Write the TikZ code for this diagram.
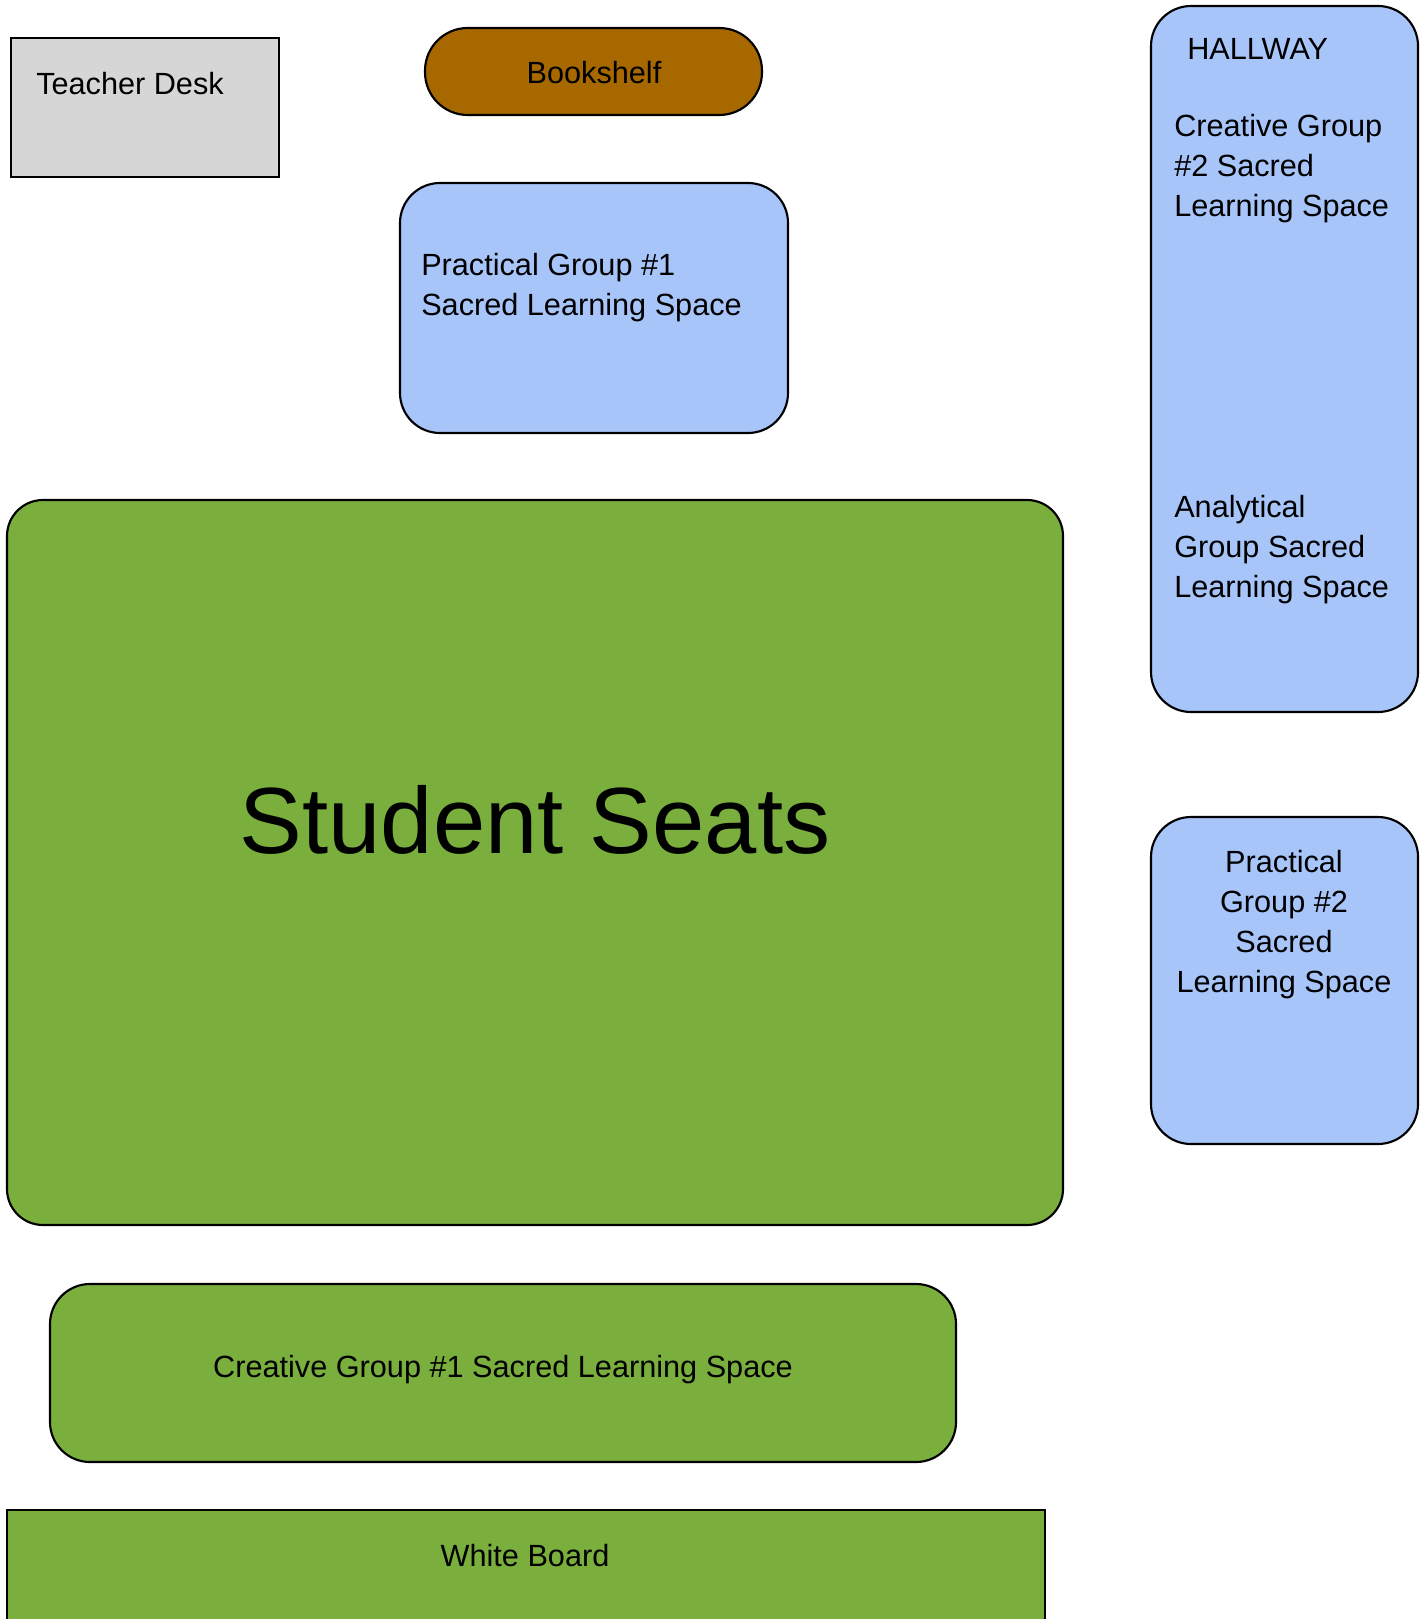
\documentclass[tikz,border=0pt]{standalone}
\usepackage{fontspec}
\setmainfont{Liberation Sans}
\definecolor{roomblue}{HTML}{A8C5FA}
\definecolor{roomgreen}{HTML}{7AAE3D}
\definecolor{shelfbrown}{HTML}{A86800}
\definecolor{deskgray}{HTML}{D6D6D6}
\begin{document}
\begin{tikzpicture}[x=0.75pt,y=-0.75pt,
  box/.style={draw=black,line width=1.6pt},
  lbl/.style={inner sep=0pt,font=\fontsize{23}{30}\selectfont,text=black},
]
\useasboundingbox (0,0) rectangle (1424,1619);
\clip (0,0) rectangle (1424,1619);
\fill[white] (0,0) rectangle (1424,1619);
% shapes
\draw[box,fill=deskgray] (11,38) rectangle (279,177);
\draw[box,fill=shelfbrown,rounded corners=32pt] (425,28) rectangle (762,115);
\draw[box,fill=roomblue,rounded corners=30pt] (400,183) rectangle (788,433);
\draw[box,fill=roomgreen,rounded corners=27pt] (7,500) rectangle (1063,1225);
\draw[box,fill=roomgreen,rounded corners=30pt] (50,1284) rectangle (956,1462);
\draw[box,fill=roomgreen] (7,1510) rectangle (1045,1660);
\draw[box,fill=roomblue,rounded corners=30pt] (1151,6) rectangle (1418,712);
\draw[box,fill=roomblue,rounded corners=30pt] (1151,817) rectangle (1418,1144);
% labels
\node[lbl,anchor=west] (desk) at (36,84) {Teacher Desk};
\node[lbl] (shelf) at (594,73) {Bookshelf};
\node[lbl,anchor=west,align=left] (pg1) at (421,288) {Practical Group \#1\\Sacred Learning Space};
\node[lbl,font=\fontsize{70.5}{80}\selectfont] (seats) at (535,820) {Student Seats};
\node[lbl] (cg1) at (503,1370) {Creative Group \#1 Sacred Learning Space};
\node[lbl] (wb) at (525,1556) {White Board};
\node[lbl,anchor=west] (hall) at (1187,49) {HALLWAY};
\node[lbl,anchor=west,align=left] (cg2) at (1174,169) {Creative Group\\\#2 Sacred\\Learning Space};
\node[lbl,anchor=west,align=left] (ag) at (1174,550) {Analytical\\Group Sacred\\Learning Space};
\node[lbl,align=center] (pg2) at (1284,925) {Practical\\Group \#2\\Sacred\\Learning Space};
\end{tikzpicture}
\end{document}
